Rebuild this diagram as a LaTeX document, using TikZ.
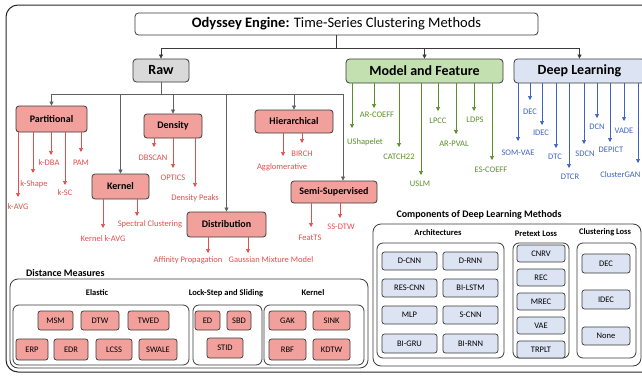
\documentclass[tikz,border=0pt]{standalone}
\usepackage{fontspec}
\setmainfont{Carlito}
\usetikzlibrary{arrows.meta}
\definecolor{edge}{HTML}{3A3A3A}
\definecolor{salmon}{HTML}{F2A09B}
\definecolor{rawgray}{HTML}{D9D9D9}
\definecolor{mgreen}{HTML}{C3E0B0}
\definecolor{dlblue}{HTML}{DCE3F2}
\definecolor{redtxt}{HTML}{E0504D}
\definecolor{greentxt}{HTML}{5B8F29}
\definecolor{bluetxt}{HTML}{3F63C4}
\definecolor{treegray}{HTML}{606060}
\begin{document}
\begin{tikzpicture}[x=1pt,y=-1pt,
  topbox/.style={draw=edge, line width=0.8pt, rounded corners=3.5pt, font=\fontsize{14}{16}\selectfont\bfseries, inner sep=0pt},
  catbox/.style={draw=edge, line width=0.8pt, rounded corners=3pt, fill=salmon, font=\fontsize{10}{12}\selectfont\bfseries, inner sep=0pt},
  smallbox/.style={draw=edge, line width=0.7pt, rounded corners=2.5pt, font=\fontsize{8.5}{10}\selectfont, inner sep=0pt},
  leaf/.style={font=\fontsize{8.5}{10}\selectfont, inner sep=0.5pt},
  head/.style={font=\fontsize{10}{12}\selectfont\bfseries, inner sep=0pt},
  subhead/.style={font=\fontsize{8.5}{10}\selectfont\bfseries, inner sep=0pt},
  frame/.style={draw=edge, line width=0.8pt, rounded corners=6pt},
  tip/.style={-{Triangle[length=4pt,width=4pt]}, line width=0.7pt},
  darkarr/.style={tip, draw=edge},
  grayarr/.style={tip, draw=treegray},
  redarr/.style={tip, draw=redtxt},
  greenarr/.style={tip, draw=greentxt},
  bluearr/.style={tip, draw=bluetxt}]
\useasboundingbox (0,0) rectangle (642,375);
% outer frame
\draw[draw=black!85, line width=1pt, rounded corners=12pt] (6,5) rectangle (664,372);

% title and top level
\node[topbox, fill=white, minimum width=403, minimum height=22, font=\fontsize{14.5}{16}\selectfont] (title) at (336.5,24) {{\bfseries Odyssey Engine:} Time-Series Clustering Methods};
\node[topbox, fill=rawgray, minimum width=56, minimum height=23] (raw) at (161,70.5) {Raw};
\node[topbox, fill=mgreen, minimum width=157, minimum height=24] (model) at (424.5,71) {Model and Feature};
\node[topbox, fill=dlblue, minimum width=131, minimum height=24] (deep) at (579.5,71) {Deep Learning};
\coordinate (tbus) at (336.5,48);
\draw[darkarr] (title.south) -- (tbus) -| (raw.north);
\draw[darkarr] (tbus) -| (model.north);
\draw[darkarr] (tbus) -| (deep.north);

% raw categories
\node[catbox, minimum width=71, minimum height=26] (part) at (51.5,119) {Partitional};
\node[catbox, minimum width=58, minimum height=24] (dens) at (173,126) {Density};
\node[catbox, minimum width=57, minimum height=25] (kern) at (120.5,186.5) {Kernel};
\node[catbox, minimum width=79, minimum height=25] (dist) at (226.5,224.5) {Distribution};
\node[catbox, minimum width=78, minimum height=23] (hier) at (294,121.5) {Hierarchical};
\node[catbox, minimum width=86, minimum height=22] (semi) at (334,192) {Semi-Supervised};
\coordinate (rawbus) at (161,94);
\draw[grayarr] (raw.south) -- (rawbus) -| (part.north);
\draw[grayarr] (rawbus) -| (kern.north);
\draw[grayarr] (rawbus) -| (dens.north);
\draw[grayarr] (rawbus) -| (dist.north);
\draw[grayarr] (rawbus) -| (hier.north);
\draw[grayarr] (rawbus) -| ([xshift=9pt]semi.north);

% red leaves
\foreach \src/\ax/\ty/\lx/\ly/\nm/\txt in {
  part/18/197/18/207/kavg/k-AVG,
  part/33/173/34/184/kshape/k-Shape,
  part/51/155/49/163/kdba/k-DBA,
  part/65/185/65/193/ksc/k-SC,
  part/81/152/81/163/pam/PAM,
  dens/154/147/153/158/dbscan/DBSCAN,
  dens/173/168/173/178/optics/OPTICS,
  dens/195/187/195/198/dpeaks/Density Peaks,
  kern/103/228/103/239/kkavg/Kernel k-AVG,
  kern/137/216/150/224/spec/Spectral Clustering,
  dist/208/253/188/260/aff/Affinity Propagation,
  dist/248/253/271/260/gmm/Gaussian Mixture Model,
  hier/283/156/282/167/aggl/Agglomerative,
  hier/302/143/302/154/birch/BIRCH,
  semi/311/227/310/238/featts/FeatTS,
  semi/340/218/341/227/ssdtw/SS-DTW}
{\coordinate (\nm-tip) at (\ax,\ty);
 \node[leaf, text=redtxt] (\nm) at (\lx,\ly) {\txt};
 \draw[redarr] (\src.south -| \nm-tip) -- (\nm-tip);}

% green leaves
\foreach \ax/\ty/\lx/\ly/\nm/\txt in {
  352/128/365/142/ushap/UShapelet,
  374/108/377/115/arcoeff/AR-COEFF,
  399/147/399/157/catch/CATCH22,
  421/175/420/184/uslm/USLM,
  438/111/438/121/lpcc/LPCC,
  456/134/454/144/arpval/AR-PVAL,
  474/111/475/120/ldps/LDPS,
  492/160/491/170/escoeff/ES-COEFF}
{\coordinate (\nm-tip) at (\ax,\ty);
 \node[leaf, text=greentxt] (\nm) at (\lx,\ly) {\txt};
 \draw[greenarr] (model.south -| \nm-tip) -- (\nm-tip);}

% blue leaves
\foreach \ax/\ty/\lx/\ly/\nm/\txt in {
  518/141/518/153/somvae/SOM-VAE,
  530/100/530/112/dec/DEC,
  542/125/541/133/idec/IDEC,
  556/148/555/157/dtc/DTC,
  569/168/570/177/dtcr/DTCR,
  584/144/585/154/sdcn/SDCN,
  597/118/597/127/dcn/DCN,
  610/142/611/150/depict/DEPICT,
  624/121/624/131/vade/VADE}
{\coordinate (\nm-tip) at (\ax,\ty);
 \node[leaf, text=bluetxt] (\nm) at (\lx,\ly) {\txt};
 \draw[bluearr] (deep.south -| \nm-tip) -- (\nm-tip);}
\coordinate (cgan-tip) at (638,163);
\node[leaf, text=bluetxt, anchor=east] (cgan) at (641,175) {ClusterGAN};
\draw[bluearr] (deep.south -| cgan-tip) -- (cgan-tip);

% distance measures
\node[head, anchor=west] (dmhead) at (26,273) {Distance Measures};
\draw[frame, rounded corners=8pt] (10,279) rectangle (368,368);
\node[subhead] (elhead) at (97,293) {Elastic};
\node[subhead] (lshead) at (226,293) {Lock-Step and Sliding};
\node[subhead] (kehead) at (313,293) {Kernel};
\draw[frame] (13,305) rectangle (189,365);
\draw[frame] (193,305) rectangle (262,365);
\draw[frame] (264,305) rectangle (364,365);
\foreach \xa/\xb/\ya/\yb/\nm/\txt in {
  38/73/311/330/msm/MSM, 81/119/311/330/dtw/DTW, 128/169/311/330/twed/TWED,
  16/48/339/360/erp/ERP, 54/88/339/360/edr/EDR, 96/132/339/360/lcss/LCSS, 139/177/339/360/swale/SWALE,
  195/220/311/330/ed/ED, 227/251/311/330/sbd/SBD, 207/243/338/358/stid/STID,
  269/306/311/330/gak/GAK, 313/350/311/330/sink/SINK, 269/306/339/360/rbf/RBF, 313/350/339/360/kdtw/KDTW}
{\node[smallbox, fill=salmon, minimum width={\xb-\xa}, minimum height={\yb-\ya}] (\nm) at ({(\xa+\xb)/2},{(\ya+\yb)/2}) {\txt};}

% components of deep learning
\node[head] (cohead) at (479,215) {Components of Deep Learning Methods};
\draw[frame, rounded corners=8pt] (373,224) rectangle (641,366);
\node[subhead] (arhead) at (438,233) {Architectures};
\node[subhead] (prhead) at (536,234) {Pretext Loss};
\node[subhead] (clhead) at (605,232) {Clustering Loss};
\draw[frame] (377,243) rectangle (504,358);
\draw[frame] (513,243) rectangle (569,358);
\draw[frame] (577,243) rectangle (636,358);
\foreach \xa/\xb/\ya/\yb/\nm/\txt in {
  382/437/252/270/dcnn/D-CNN, 443/498/252/270/drnn/D-RNN,
  382/437/279/297/rescnn/RES-CNN, 443/498/279/297/bilstm/BI-LSTM,
  382/437/306/324/mlp/MLP, 443/498/306/324/scnn/S-CNN,
  382/437/334/353/bigru/BI-GRU, 443/498/334/353/birnn/BI-RNN,
  517/565/245/262/cnrv/CNRV, 517/565/269/286/rec/REC, 517/565/293/310/mrec/MREC,
  517/565/317/334/vae/VAE, 517/565/341/358/trplt/TRPLT,
  582/630/254/273/cldec/DEC, 582/630/290/309/clidec/IDEC, 582/630/327/345/clnone/None}
{\node[smallbox, fill=dlblue, minimum width={\xb-\xa}, minimum height={\yb-\ya}] (\nm) at ({(\xa+\xb)/2},{(\ya+\yb)/2}) {\txt};}
\end{tikzpicture}
\end{document}
